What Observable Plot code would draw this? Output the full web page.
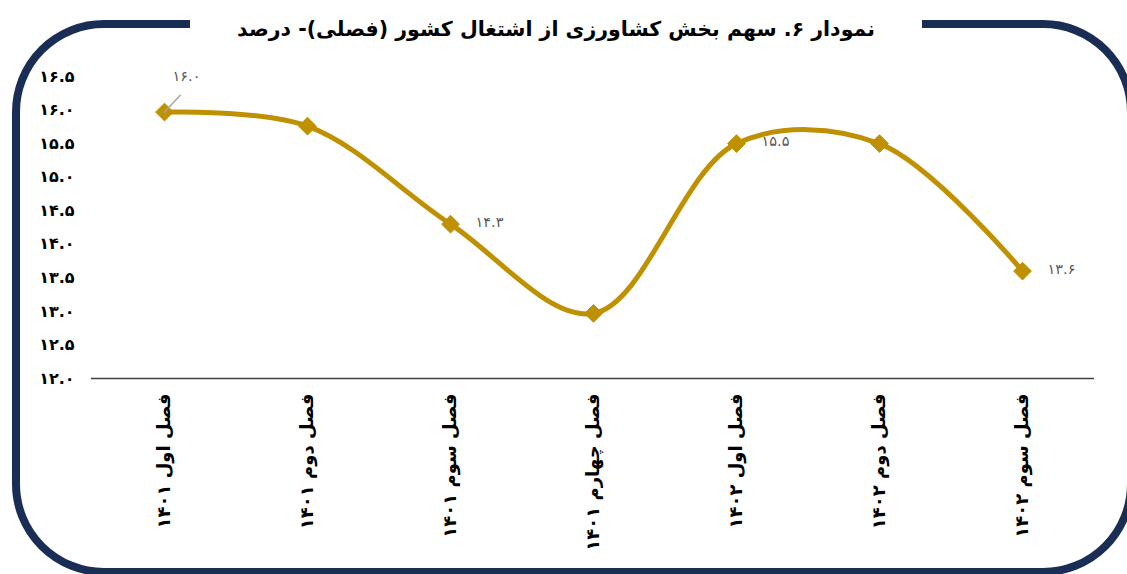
<!DOCTYPE html>
<html>
<head>
<meta charset="utf-8">
<script src="https://cdn.jsdelivr.net/npm/d3@7"></script>
<script src="https://cdn.jsdelivr.net/npm/@observablehq/plot@0.6"></script>
<style>
  html, body { margin: 0; padding: 0; background: #fff; overflow: hidden; width: 1127px; height: 574px; }
  #wrap { position: relative; width: 1127px; height: 574px; overflow: hidden; }
  #frame { position: absolute; left: 12px; top: 20px; width: 1123px; height: 556px; box-sizing: border-box;
           border: 8px solid #1a2e55; border-radius: 92px; }
  #title { position: absolute; left: 190px; width: 732px; top: 8px; height: 42px; background: #fff;
           text-align: center; font-family: "DejaVu Sans", sans-serif; font-weight: bold; font-size: 20.5px;
           line-height: 42px; color: #000; direction: rtl; }
  #chart { position: absolute; left: 0; top: 0; }
</style>
</head>
<body>
<div id="wrap">
  <div id="frame"></div>
  <div id="title">نمودار ۶. سهم بخش کشاورزی از اشتغال کشور (فصلی)- درصد</div>
  <div id="chart"></div>
</div>
<script>
const categories = ["فصل اول ۱۴۰۱", "فصل دوم ۱۴۰۱", "فصل سوم ۱۴۰۱", "فصل چهارم ۱۴۰۱", "فصل اول ۱۴۰۲", "فصل دوم ۱۴۰۲", "فصل سوم ۱۴۰۲"];
const values = [15.97, 15.76, 14.3, 12.97, 15.5, 15.5, 13.6];
const labelled = [true, false, true, false, true, false, true];
const yTicks = [12, 12.5, 13, 13.5, 14, 14.5, 15, 15.5, 16, 16.5];

const fa = s => String(s).replace(/\d/g, d => "۰۱۲۳۴۵۶۷۸۹"[d]);
const data = categories.map((c, i) => ({cat: c, v: values[i], lab: labelled[i]}));
const labelData = data.filter(d => d.lab);
const first = labelData.slice(0, 1);
const rest = labelData.slice(1);

const gold = "#BF9000";
const plot = Plot.plot({
  width: 1127,
  height: 574,
  marginTop: 76,
  marginBottom: 196,
  marginLeft: 91,
  marginRight: 33,
  style: {background: "transparent", fontFamily: "DejaVu Sans, sans-serif"},
  x: {type: "point", domain: categories, padding: 0.5, label: null},
  y: {domain: [12, 16.5], label: null},
  marks: [
    Plot.axisY({ticks: yTicks, tickSize: 0, tickPadding: 17, tickFormat: d => fa(d.toFixed(1)),
                fontSize: 16, fontWeight: "bold", fill: "#000", label: null}),
    Plot.axisX({tickSize: 0, tickPadding: 15, tickRotate: -90, fontSize: 18, fontWeight: "bold",
                fill: "#000", label: null}),
    Plot.ruleY([12], {stroke: "#404040", strokeWidth: 1.5}),
    Plot.line(data, {x: "cat", y: "v", stroke: gold, strokeWidth: 5, curve: "catmull-rom"}),
    Plot.dot(data, {x: "cat", y: "v", symbol: "diamond2", r: 8, fill: gold, stroke: gold, strokeWidth: 1}),
    Plot.vector(first, {x: "cat", y: "v", length: 23, rotate: 43, anchor: "start", stroke: "#A6A6A6", strokeWidth: 1.5, shape: {draw(ctx, l) { ctx.moveTo(0, 0); ctx.lineTo(0, -l); }}}),
    Plot.text(first, {x: "cat", y: "v", text: d => fa(d.v.toFixed(1)), dx: 22, dy: -36, fill: "#595959", fontSize: 14.5}),
    Plot.text(rest, {x: "cat", y: "v", text: d => fa(d.v.toFixed(1)), dx: 25, dy: -2, textAnchor: "start", fill: "#595959", fontSize: 14.5})
  ]
});
document.getElementById("chart").appendChild(plot);
</script>
</body>
</html>
